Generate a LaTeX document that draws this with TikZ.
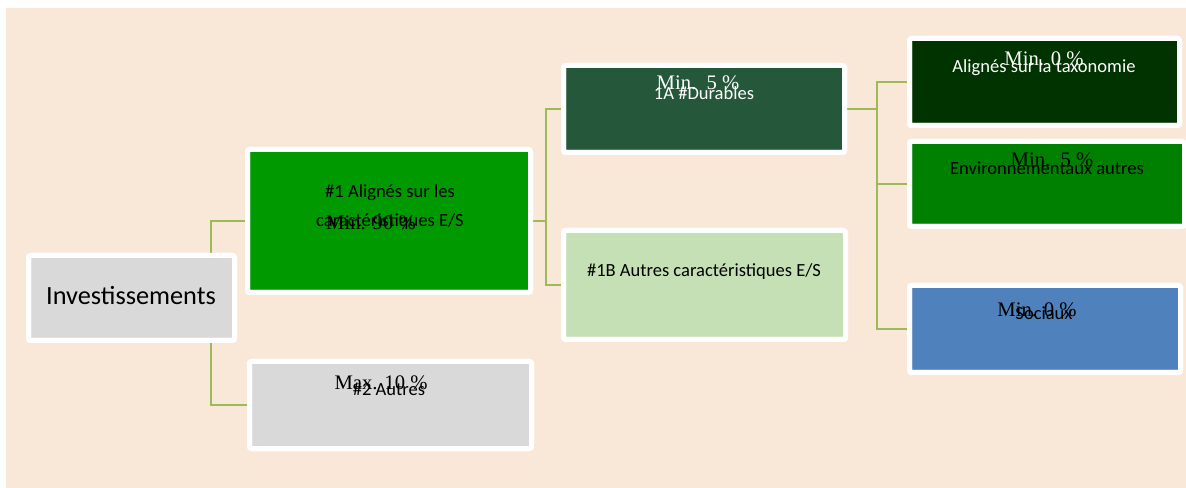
\documentclass[tikz,border=0pt]{standalone}
\usepackage{fontspec}
\setmainfont{Carlito}
\newfontfamily\minfont{Liberation Serif}
\usetikzlibrary{fit}
\definecolor{bgbeige}{HTML}{F9E8D8}
\definecolor{conncol}{HTML}{9BBB59}
\definecolor{gMain}{HTML}{009900}
\definecolor{gDark}{HTML}{25573A}
\definecolor{gLight}{HTML}{C5E0B4}
\definecolor{grayb}{HTML}{D9D9D9}
\definecolor{gTax}{HTML}{003300}
\definecolor{gEnv}{HTML}{008000}
\definecolor{bSoc}{HTML}{4F81BD}
\tikzset{
  box/.style={draw=white, line width=3.75pt, rounded corners=1.5pt, inner sep=-1.875pt, outer sep=0pt},
  conn/.style={draw=conncol, line width=1.6pt},
  lbl/.style={anchor=base, inner sep=0pt, font=\fontsize{13.9}{16}\selectfont},
  minlbl/.style={anchor=base, inner sep=0pt, font=\minfont\fontsize{15.5}{18}\selectfont},
}
\begin{document}
\begin{tikzpicture}[x=0.75pt, y=-0.75pt]
\useasboundingbox (0,0) rectangle (1186,488);
\fill[white] (0,0) rectangle (1186,488);
\fill[bgbeige] (6,8) rectangle (1186,488);
% junction coordinates
\coordinate (j0) at (211,0);
\coordinate (j1) at (546,221);
\coordinate (j2) at (877,109);
% boxes
\node[box, fill=grayb, fit={(26,253) (237,343)}] (inv) {};
\node[box, fill=gMain, fit={(245,147) (533,295)}] (b1) {};
\node[box, fill=grayb, fit={(247,359) (534,451)}] (b2) {};
\node[box, fill=gDark, fit={(561,63) (847,155)}] (a1) {};
\node[box, fill=gLight, fit={(561,228) (848,342)}] (b1b) {};
\node[box, fill=gTax, fit={(907,36) (1182,128)}] (tax) {};
\node[box, fill=gEnv, fit={(907,139) (1187,229)}] (env) {};
\node[box, fill=bSoc, fit={(907,283) (1183,375)}] (soc) {};
% connectors
\draw[conn] (inv.north -| j0) |- (b1.west);
\draw[conn] (inv.south -| j0) |- (b2.west);
\draw[conn] (b1.east) -- (j1) |- (a1.west);
\draw[conn] (j1) |- (b1b.west);
\draw[conn] (a1.east) -- (j2) |- (tax.west);
\draw[conn] (j2) |- (env.west);
\draw[conn] (j2) |- (soc.west);
% redraw white borders over connector ends
\foreach \n in {inv,b1,b2,a1,b1b,tax,env,soc}{
  \draw[white, line width=3.75pt, rounded corners=1.5pt] (\n.south west) rectangle (\n.north east);
}
% labels
\node[lbl, font=\fontsize{19.7}{22}\selectfont] (tInv) at (131,305) {Investissements};
\node[lbl, align=center, anchor=base, font=\fontsize{13.9}{21.75}\selectfont] (tB1) at (390,227) {\#1 Alignés sur les\\caractéristiques E/S};
\node[minlbl] (mB1) at (371,230) {Min. 90 \%};
\node[minlbl] (mB2) at (381,390) {Max. 10 \%};
\node[lbl] (tB2) at (389,396) {\#2 Autres};
\node[minlbl, text=white] (mA1) at (698,90) {Min.\ \ 5 \%};
\node[lbl, text=white] (tA1) at (704,100) {1A \#Durables};
\node[lbl] (tB1b) at (704,277) {\#1B Autres caractéristiques E/S};
\node[minlbl, text=white] (mTax) at (1044,66) {Min. 0 \%};
\node[lbl, text=white] (tTax) at (1044,73) {Alignés sur la taxonomie};
\node[minlbl] (mEnv) at (1052,167) {Min.\ \ 5 \%};
\node[lbl] (tEnv) at (1047,175) {Environnementaux autres};
\node[minlbl] (mSoc) at (1037,317) {Min. 0 \%};
\node[lbl] (tSoc) at (1044,320) {Sociaux};
\end{tikzpicture}
\end{document}
